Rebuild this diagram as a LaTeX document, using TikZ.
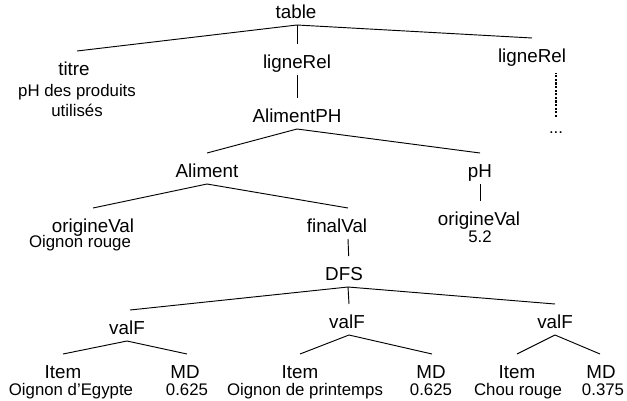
\documentclass[tikz,border=0pt]{standalone}
\usepackage{fontspec}
\setmainfont{Liberation Sans}
\begin{document}
\begin{tikzpicture}[x=0.75pt, y=-0.75pt,
  lbl/.style={font=\fontsize{14.1}{17}\selectfont, inner sep=0pt, outer sep=0pt,
              text height=18pt, text depth=5.25pt, anchor=base},
  val/.style={font=\fontsize{12.6}{15}\selectfont, inner sep=0pt, outer sep=0pt, anchor=base},
  edge/.style={line width=0.7pt, black},
  dotline/.style={line width=1pt, dash pattern=on 1.6pt off 1.1pt}]
\useasboundingbox (0,0) rectangle (627,400);

% tree labels
\node[lbl] (table) at (296,18) {table};
\node[lbl] (titre) at (74,75) {titre};
\node[val] (titreA) at (77,96) {pH des produits};
\node[val] (titreB) at (77,116) {utilisés};
\node[lbl] (rel1) at (297,68) {ligneRel};
\node[lbl] (rel2) at (532,62) {ligneRel};
\node[val, text height=12pt, text depth=0pt] (more) at (556,133) {...};
\node[lbl] (alph) at (297,122) {AlimentPH};
\node[lbl] (alim) at (207,177) {Aliment};
\node[lbl] (ph) at (480,177) {pH};
\node[lbl, text depth=2.5pt] (origL) at (93,232) {origineVal};
\node[val] (origLv) at (80,247.5) {Oignon rouge};
\node[lbl] (final) at (337,232) {finalVal};
\node[lbl, text depth=2.5pt] (origR) at (479,225) {origineVal};
\node[val] (origRv) at (480,242.5) {5.2};
\node[lbl] (dfs) at (344,280) {DFS};
\node[lbl] (vfL) at (127,334) {valF};
\node[lbl] (vfM) at (347,328) {valF};
\node[lbl] (vfR) at (555,328) {valF};
\node[lbl, text depth=2.5pt] (itemL) at (63,378) {Item};
\node[val] (itemLv) at (71,395) {Oignon d’Egypte};
\node[lbl, text depth=2.5pt] (mdL) at (185,378) {MD};
\node[val] (mdLv) at (187,395) {0.625};
\node[lbl, text depth=2.5pt] (itemM) at (300,378) {Item};
\node[val] (itemMv) at (305,395) {Oignon de printemps};
\node[lbl, text depth=2.5pt] (mdM) at (431,378) {MD};
\node[val] (mdMv) at (431,395) {0.625};
\node[lbl, text depth=2.5pt] (itemR) at (517,378) {Item};
\node[val] (itemRv) at (518,395) {Chou rouge};
\node[lbl, text depth=2.5pt] (mdR) at (601,378) {MD};
\node[val] (mdRv) at (603,395) {0.375};

% branches
\draw[edge] ([xshift=0.75pt]table.south) -- ([xshift=2.25pt]titre.north);
\draw[edge] ([xshift=0.75pt]table.south) -- (rel1.north);
\draw[edge] ([xshift=0.75pt]table.south) -- (rel2.north);
\draw[dotline, shorten >=3pt] (more.north) -- (more.north |- rel2.south);
\draw[edge] (rel1.south) -- (alph.north);
\draw[edge] (alph.south) -- (alim.north);
\draw[edge] (alph.south) -- (ph.north);
\draw[edge] (alim.south) -- (origL.north);
\draw[edge] (alim.south) -- ([xshift=8.25pt]final.north);
\draw[edge] (ph.south) -- (ph.south |- origR.north);
\draw[edge] ([xshift=8.25pt]final.south) -- ([xshift=3.5pt]dfs.north);
\draw[edge] ([xshift=3pt]dfs.south) -- ([xshift=2.25pt]vfL.north);
\draw[edge] ([xshift=3pt]dfs.south) -- ([xshift=1.5pt]vfM.north);
\draw[edge] ([xshift=3pt]dfs.south) -- (vfR.north);
\draw[edge] (vfL.south) -- (itemL.north);
\draw[edge] (vfL.south) -- ([xshift=1.5pt]mdL.north);
\draw[edge] ([xshift=1.5pt]vfM.south) -- (itemM.north);
\draw[edge] ([xshift=1.5pt]vfM.south) -- ([xshift=0.75pt]mdM.north);
\draw[edge] (vfR.south) -- (itemR.north);
\draw[edge] (vfR.south) -- ([xshift=-0.75pt]mdR.north);
\end{tikzpicture}
\end{document}
